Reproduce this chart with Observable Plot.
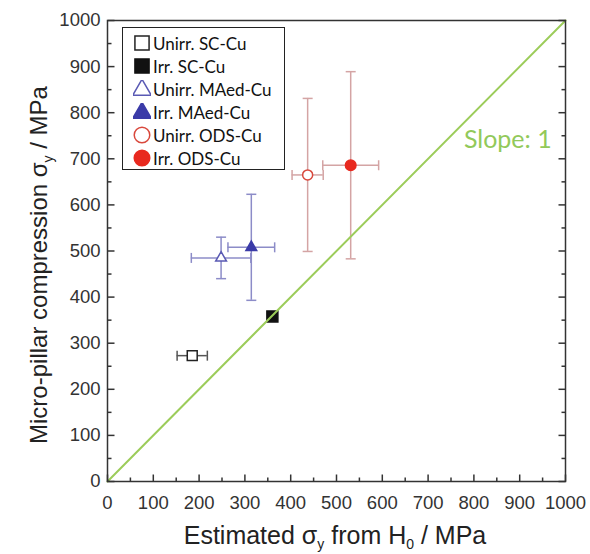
<!DOCTYPE html>
<html><head><meta charset="utf-8">
<script src="https://cdn.jsdelivr.net/npm/d3@7"></script>
<script src="https://cdn.jsdelivr.net/npm/@observablehq/plot@0.6"></script>
<style>
body{margin:0;background:#fff;}
#wrap{position:relative;width:590px;height:554px;}
#legend{position:absolute;left:122px;top:27px;width:163px;height:143px;border:1.5px solid #222;background:#fff;font-family:Lato,"Open Sans",sans-serif;font-size:17px;color:#111;box-sizing:border-box;}
#legend .row{position:absolute;left:0;height:22px;display:flex;align-items:center;white-space:nowrap;}
#legend svg{margin-left:10px;margin-right:2px;}
</style></head>
<body><div id="wrap"><div id="legend"></div></div>
<script>
const series = ["Unirr. SC-Cu","Irr. SC-Cu","Unirr. MAed-Cu","Irr. MAed-Cu","Unirr. ODS-Cu","Irr. ODS-Cu"];
const xVals = [185, 360, 248, 314, 437, 531];
const yVals = [273, 358, 485, 508, 665, 686];
const xErr  = [33, 6, 65, 51, 34, 61];
const yErr  = [0, 6, 45, 115, 166, 203];
const symbols = ["square","square","triangle","triangle","circle","circle"];
const fills   = ["white","#111","white","#3b3ba8","white","#e8291f"];
const strokes = ["#222","#111","#5a5ab4","#3b3ba8","#d9483c","#e8291f"];
const barColors = ["#555","#555","#8c8cc8","#8c8cc8","#d4a4a4","#d4a4a4"];
const sizes = [5.6, 6.2, 4, 4, 5, 5.3];
const majorTicks = d3.range(0, 1001, 100);
const minorTicks = d3.range(50, 1000, 100);
const lineX = [0, 1000];
const slopeLabel = "Slope: 1";

const data = series.map((s,i)=>({s, x:xVals[i], y:yVals[i], xe:xErr[i], ye:yErr[i], sym:symbols[i], fill:fills[i], stroke:strokes[i], bar:barColors[i], r:sizes[i]}));
const vBars = data.filter(d=>d.ye>0);
const hBars = data.filter(d=>d.xe>0);

const hCap = {draw(ctx){ ctx.moveTo(-5,0); ctx.lineTo(5,0); }};
const vCap = {draw(ctx){ ctx.moveTo(0,-5); ctx.lineTo(0,5); }};
const tickSym = (dx, dy) => ({draw(ctx){ ctx.moveTo(0,0); ctx.lineTo(dx,dy); }});
const tk = {stroke:"#333", strokeWidth:1.5, fill:"none"};
const axisFont = "'Liberation Sans', Arial, sans-serif";

const chart = Plot.plot({
  width:590, height:554,
  marginLeft:107, marginRight:25, marginTop:20, marginBottom:73,
  x:{domain:[0,1000]}, y:{domain:[0,1000]}, r:{type:"identity"},
  style:{fontFamily:axisFont, background:"white"},
  marks:[
    Plot.ruleX(vBars,{x:"x", y1:d=>d.y-d.ye, y2:d=>d.y+d.ye, stroke:"bar", strokeWidth:1.5}),
    Plot.ruleY(hBars,{y:"y", x1:d=>d.x-d.xe, x2:d=>d.x+d.xe, stroke:"bar", strokeWidth:1.5}),
    Plot.dot(vBars,{x:"x", y:d=>d.y-d.ye, symbol:()=>hCap, stroke:"bar", fill:"none", strokeWidth:1.5}),
    Plot.dot(vBars,{x:"x", y:d=>d.y+d.ye, symbol:()=>hCap, stroke:"bar", fill:"none", strokeWidth:1.5}),
    Plot.dot(hBars,{y:"y", x:d=>d.x-d.xe, symbol:()=>vCap, stroke:"bar", fill:"none", strokeWidth:1.5}),
    Plot.dot(hBars,{y:"y", x:d=>d.x+d.xe, symbol:()=>vCap, stroke:"bar", fill:"none", strokeWidth:1.5}),
    Plot.dot(data,{x:"x", y:"y", symbol:d=>d.sym, fill:"fill", stroke:"stroke", r:"r", strokeWidth:1.5}),
    Plot.line(lineX.map(v=>({x:v,y:v})),{x:"x", y:"y", stroke:"#9ccc5a", strokeWidth:2}),
    Plot.text([slopeLabel],{x:[874], y:[741], text:d=>d, fill:"#92c95a", fontSize:25, fontFamily:"Lato, 'Open Sans', sans-serif"}),
    Plot.frame({stroke:"#333", strokeWidth:1.5}),
    Plot.dot(majorTicks,{x:d=>d, frameAnchor:"bottom", symbol:()=>tickSym(0,-7), ...tk}),
    Plot.dot(minorTicks,{x:d=>d, frameAnchor:"bottom", symbol:()=>tickSym(0,-4), ...tk}),
    Plot.dot(majorTicks,{y:d=>d, frameAnchor:"left", symbol:()=>tickSym(7,0), ...tk}),
    Plot.dot(minorTicks,{y:d=>d, frameAnchor:"left", symbol:()=>tickSym(4,0), ...tk}),
    Plot.dot(majorTicks,{y:d=>d, frameAnchor:"right", symbol:()=>tickSym(-7,0), ...tk}),
    Plot.dot(minorTicks,{y:d=>d, frameAnchor:"right", symbol:()=>tickSym(-4,0), ...tk}),
    Plot.axisX({ticks:majorTicks, tickFormat:d=>String(d), tickSize:0, tickPadding:14, fontSize:18.5, fill:"#333", fontFamily:axisFont, label:null}),
    Plot.axisY({ticks:majorTicks, tickFormat:d=>String(d), tickSize:0, tickPadding:7, fontSize:18.5, fill:"#333", fontFamily:axisFont, label:null})
  ]
});
document.getElementById("wrap").prepend(chart);

const svg = d3.select(chart);
const xt = svg.append("text").attr("x", 335).attr("y", 544).attr("text-anchor","middle")
  .attr("font-size", 25).attr("fill","#222").attr("font-family", axisFont);
xt.append("tspan").text("Estimated σ");
xt.append("tspan").text("y").attr("font-size",14).attr("dy",5);
xt.append("tspan").text(" from H").attr("dy",-5);
xt.append("tspan").text("0").attr("font-size",14).attr("dy",5);
xt.append("tspan").text(" / MPa").attr("dy",-5);
const yt = svg.append("text").attr("transform","translate(47,265) rotate(-90)").attr("text-anchor","middle")
  .attr("font-size", 24).attr("fill","#222").attr("font-family", axisFont);
yt.append("tspan").text("Micro-pillar compression σ");
yt.append("tspan").text("y").attr("font-size",14).attr("dy",6);
yt.append("tspan").text(" / MPa").attr("dy",-6);

const leg = d3.select("#legend");
const symMap = {square:d3.symbolSquare, triangle:d3.symbolTriangle, circle:d3.symbolCircle};
data.forEach((d,i)=>{
  const row = leg.append("div").attr("class","row").style("top", (4 + i*23) + "px");
  const s = row.append("svg").attr("width",18).attr("height",18);
  const g = s.append("g").attr("transform", d.sym==="triangle" ? "translate(9,10)" : "translate(9,9)");
  g.append("path").attr("d", d3.symbol(symMap[d.sym], d.sym==="triangle"?150:(d.sym==="square"?200:190))())
    .attr("fill", d.fill).attr("stroke", d.stroke).attr("stroke-width",1.5);
  row.append("span").text(d.s);
});
</script></body></html>
